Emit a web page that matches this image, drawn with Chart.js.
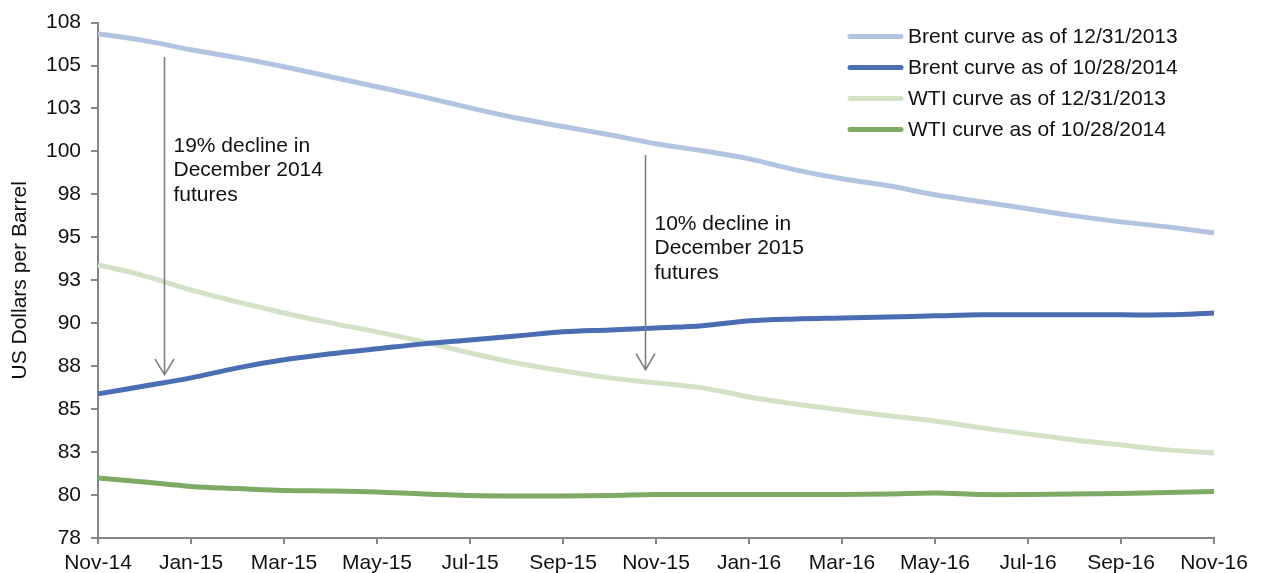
<!DOCTYPE html>
<html>
<head>
<meta charset="utf-8">
<script src="https://cdn.jsdelivr.net/npm/chart.js@4"></script>
<style>
  html, body { margin: 0; padding: 0; background: #fff; }
  #wrap { width: 1264px; height: 573px; position: relative; }
</style>
</head>
<body>
<div id="wrap"><canvas id="curveChart"></canvas></div>
<script>
// forward curves, monthly contracts Nov-14 .. Nov-16
const MONTHS = [
  'Nov-14', 'Dec-14', 'Jan-15', 'Feb-15', 'Mar-15', 'Apr-15', 'May-15', 'Jun-15', 'Jul-15',
  'Aug-15', 'Sep-15', 'Oct-15', 'Nov-15', 'Dec-15', 'Jan-16', 'Feb-16', 'Mar-16', 'Apr-16',
  'May-16', 'Jun-16', 'Jul-16', 'Aug-16', 'Sep-16', 'Oct-16', 'Nov-16'
];

const BRENT_2013 = [106.85, 106.45, 105.92, 105.46, 104.93, 104.35, 103.77, 103.18, 102.54, 101.95,
  101.45, 100.97, 100.45, 100.04, 99.57, 98.93, 98.41, 98.0, 97.48, 97.07, 96.66, 96.25, 95.9, 95.61, 95.26];
const BRENT_2014 = [85.89, 86.35, 86.82, 87.4, 87.87, 88.22, 88.51, 88.8, 89.03, 89.26,
  89.5, 89.61, 89.73, 89.85, 90.14, 90.25, 90.31, 90.37, 90.43, 90.49, 90.49, 90.49, 90.49, 90.49, 90.6];
const WTI_2013 = [93.4, 92.76, 91.94, 91.24, 90.6, 90.02, 89.5, 88.92, 88.27, 87.69,
  87.23, 86.82, 86.53, 86.24, 85.71, 85.3, 84.95, 84.61, 84.31, 83.91, 83.56, 83.21, 82.92, 82.63, 82.45];
const WTI_2014 = [80.99, 80.76, 80.5, 80.38, 80.27, 80.24, 80.18, 80.06, 79.98, 79.95,
  79.95, 79.98, 80.03, 80.03, 80.03, 80.03, 80.03, 80.06, 80.12, 80.03, 80.03, 80.06, 80.09, 80.15, 80.21];

const SERIES_LABELS = [
  'Brent curve as of 12/31/2013',
  'Brent curve as of 10/28/2014',
  'WTI curve as of 12/31/2013',
  'WTI curve as of 10/28/2014'
];
const SERIES_COLORS = ['#b3c4e0', '#4a6db3', '#d3e2c7', '#7faa66'];

// y axis runs 77.5 .. 107.5 in 2.5 steps, labels shown rounded
const Y_TICK_LABELS = ['78', '80', '83', '85', '88', '90', '93', '95', '98', '100', '103', '105', '108'];

// arrows: x as month index, y in dollars (top, tip)
const ARROW_X = [1.42, 11.76];
const ARROW_TOP = [105.5, 99.8];
const ARROW_TIP = [87.0, 87.3];
const NOTE_LINES = [
  ['19% decline in', 'December 2014', 'futures'],
  ['10% decline in', 'December 2015', 'futures']
];
const NOTE_Y = [100.33, 95.79];

const FONT = '"Liberation Sans", Arial, sans-serif';
const TEXT = '#111';
const AXIS = '#868686';

const notesPlugin = {
  id: 'notes',
  afterDatasetsDraw(chart) {
    const { ctx, scales: { x, y } } = chart;
    ctx.save();
    ARROW_X.forEach((ax, i) => {
      const px = Math.round(x.getPixelForValue(ax)) + 0.5;
      const top = y.getPixelForValue(ARROW_TOP[i]);
      const tip = y.getPixelForValue(ARROW_TIP[i]);
      ctx.strokeStyle = '#7f7f7f';
      ctx.lineWidth = 1.6;
      ctx.beginPath();
      ctx.moveTo(px, top);
      ctx.lineTo(px, tip);
      ctx.moveTo(px - 9.5, tip - 16);
      ctx.lineTo(px, tip);
      ctx.lineTo(px + 9.5, tip - 16);
      ctx.stroke();

      ctx.fillStyle = TEXT;
      ctx.font = '21px ' + FONT;
      ctx.textAlign = 'left';
      ctx.textBaseline = 'middle';
      const ty = y.getPixelForValue(NOTE_Y[i]);
      NOTE_LINES[i].forEach((line, k) => {
        ctx.fillText(line, px + 9, ty + k * 24.5);
      });
    });
    ctx.restore();
  }
};

const legendPlugin = {
  id: 'cornerLegend',
  afterDraw(chart) {
    const { ctx, chartArea } = chart;
    const x0 = chartArea.right - 366;
    const y0 = chartArea.top + 14;
    ctx.save();
    ctx.font = '21px ' + FONT;
    ctx.textBaseline = 'middle';
    ctx.textAlign = 'left';
    chart.data.datasets.forEach((ds, i) => {
      const yy = y0 + i * 31;
      ctx.strokeStyle = ds.borderColor;
      ctx.lineWidth = 5;
      ctx.lineCap = 'round';
      ctx.beginPath();
      ctx.moveTo(x0 + 2, yy);
      ctx.lineTo(x0 + 53, yy);
      ctx.stroke();
      ctx.fillStyle = TEXT;
      ctx.fillText(ds.label, x0 + 60, yy + 1);
    });
    ctx.restore();
  }
};

function buildDatasets() {
  const series = [BRENT_2013, BRENT_2014, WTI_2013, WTI_2014];
  return series.map((vals, i) => ({
    label: SERIES_LABELS[i],
    data: vals,
    borderColor: SERIES_COLORS[i],
    backgroundColor: SERIES_COLORS[i],
    borderWidth: 5,
    borderCapStyle: 'butt',
    pointRadius: 0,
    tension: 0.35,
    fill: false
  }));
}

const ctx = document.getElementById('curveChart').getContext('2d');
new Chart(ctx, {
  type: 'line',
  data: { labels: MONTHS, datasets: buildDatasets() },
  options: {
    responsive: true,
    maintainAspectRatio: false,
    animation: false,
    layout: { padding: { top: 22, right: 50, left: 0, bottom: 0 } },
    plugins: {
      legend: { display: false },
      tooltip: { enabled: false }
    },
    scales: {
      x: {
        type: 'category',
        offset: false,
        afterFit: s => { s.height = 35; },
        border: { color: AXIS, width: 2 },
        grid: { drawOnChartArea: false, drawTicks: true, tickLength: 6, color: AXIS, lineWidth: 2 },
        ticks: {
          autoSkip: false,
          maxRotation: 0,
          padding: 7,
          color: TEXT,
          font: { family: FONT, size: 21 },
          callback: (val, idx) => (idx % 2 ? null : MONTHS[idx])
        }
      },
      y: {
        min: 77.5,
        max: 107.5,
        afterFit: s => { s.width = 98; },
        border: { color: AXIS, width: 2 },
        grid: { drawOnChartArea: false, drawTicks: true, tickLength: 7, color: AXIS, lineWidth: 2 },
        ticks: {
          stepSize: 2.5,
          padding: 10,
          color: TEXT,
          font: { family: FONT, size: 21 },
          callback: (val, idx) => Y_TICK_LABELS[idx]
        },
        title: {
          display: true,
          text: 'US Dollars per Barrel',
          color: TEXT,
          font: { family: FONT, size: 21 },
          padding: { top: 8, bottom: 0 }
        }
      }
    }
  },
  plugins: [notesPlugin, legendPlugin]
});
</script>
</body>
</html>
